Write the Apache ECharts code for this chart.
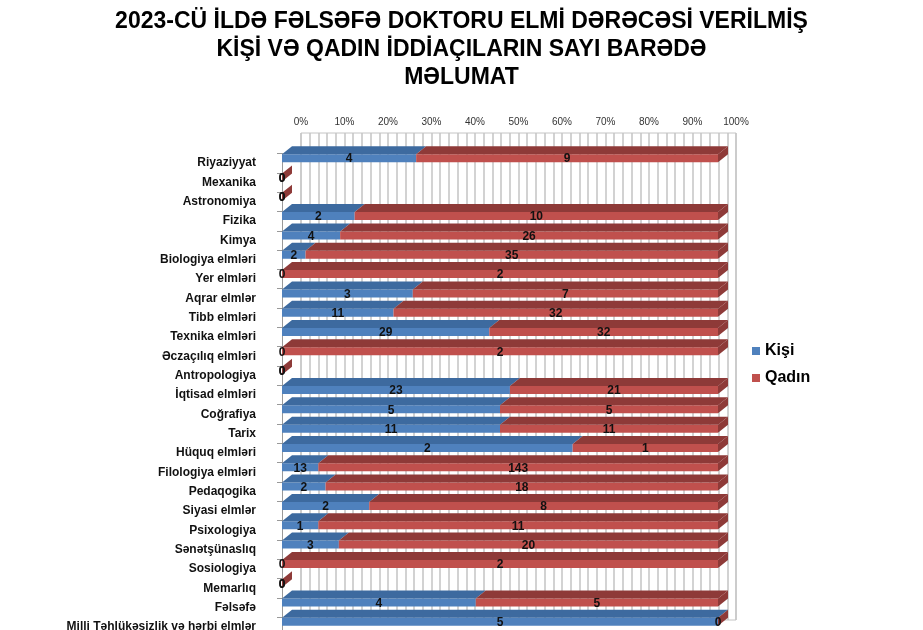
<!DOCTYPE html>
<html>
<head>
<meta charset="utf-8">
<script src="https://cdn.jsdelivr.net/npm/echarts@6/dist/echarts.min.js"></script>
<style>
  html, body { margin: 0; padding: 0; background: #fff; }
  #chart { width: 923px; height: 630px; }
</style>
</head>
<body>
<div id="chart"></div>
<script>
var categories = ['Riyaziyyat', 'Mexanika', 'Astronomiya', 'Fizika', 'Kimya', 'Biologiya elmləri',
  'Yer elmləri', 'Aqrar elmlər', 'Tibb elmləri', 'Texnika elmləri', 'Əczaçılıq elmləri',
  'Antropologiya', 'İqtisad elmləri', 'Coğrafiya', 'Tarix', 'Hüquq elmləri', 'Filologiya elmləri',
  'Pedaqogika', 'Siyasi elmlər', 'Psixologiya', 'Sənətşünaslıq', 'Sosiologiya', 'Memarlıq',
  'Fəlsəfə', 'Milli Təhlükəsizlik və hərbi elmlər'];
var kisi  = [4, 0, 0, 2, 4, 2, 0, 3, 11, 29, 0, 0, 23, 5, 11, 2, 13, 2, 2, 1, 3, 0, 0, 4, 5];
var qadin = [9, 0, 0, 10, 26, 35, 2, 7, 32, 32, 2, 0, 21, 5, 11, 1, 143, 18, 8, 11, 20, 2, 0, 5, 0];

// 100% stacked segments: [category, start%, end%, raw value]
var kisiData = categories.map(function (c, i) {
  var total = kisi[i] + qadin[i];
  var p = total ? kisi[i] / total * 100 : 0;
  return [i, 0, p, kisi[i]];
});
var qadinData = categories.map(function (c, i) {
  var total = kisi[i] + qadin[i];
  var p = total ? kisi[i] / total * 100 : 0;
  return [i, p, total ? 100 : 0, qadin[i]];
});

function makeRender(front, top, side, withSide) {
  return function (params, api) {
    var cat = api.value(0);
    var a = api.coord([api.value(1), cat]);
    var b = api.coord([api.value(2), cat]);
    var h = 8, dx = 10, dy = 8;
    var yc = a[1] - 5;
    var y0 = yc - h / 2, y1 = yc + h / 2;
    var x0 = a[0], x1 = b[0];
    var children = [];
    if (x1 > x0) {
      children.push({ type: 'rect', shape: { x: x0, y: y0, width: x1 - x0, height: h }, style: { fill: front } });
      children.push({ type: 'polygon', shape: { points: [[x0, y0], [x0 + dx, y0 - dy], [x1 + dx, y0 - dy], [x1, y0]] }, style: { fill: top } });
    }
    if (withSide) {
      children.push({ type: 'polygon', shape: { points: [[x1, y0], [x1 + dx, y0 - dy], [x1 + dx, y1 - dy], [x1, y1]] }, style: { fill: side } });
    }
    children.push({
      type: 'text',
      z2: 50,
      style: {
        text: String(api.value(3)), x: (x0 + x1) / 2, y: yc + 1,
        align: 'center', verticalAlign: 'middle',
        font: 'bold 12px "Liberation Sans", Arial, sans-serif', fill: '#111'
      }
    });
    return { type: 'group', children: children };
  };
}

var chart = echarts.init(document.getElementById('chart'));
chart.setOption({
  backgroundColor: '#fff',
  animation: false,
  title: {
    text: '2023-CÜ İLDƏ FƏLSƏFƏ DOKTORU ELMİ DƏRƏCƏSİ VERİLMİŞ\nKİŞİ VƏ QADIN İDDİAÇILARIN SAYI BARƏDƏ\nMƏLUMAT',
    left: 'center',
    top: 3,
    textStyle: {
      fontFamily: '"Liberation Sans", Arial, sans-serif',
      fontWeight: 'bold', fontSize: 23, lineHeight: 28, color: '#000'
    }
  },
  legend: {
    orient: 'vertical',
    left: 747,
    top: 338,
    itemWidth: 8,
    itemHeight: 8,
    itemGap: 11,
    icon: 'rect',
    textStyle: { fontFamily: '"Liberation Sans", Arial, sans-serif', fontWeight: 'bold', fontSize: 16, color: '#000' },
    data: ['Kişi', 'Qadın']
  },
  grid: [
    { left: 301, width: 435, top: 133, height: 487, show: true, borderColor: '#c4c4c4', borderWidth: 1, outerBoundsMode: 'none' },
    { left: 282, width: 436, top: 153.5, height: 483, outerBoundsMode: 'none' }
  ],
  xAxis: [
    {
      gridIndex: 0, type: 'value', position: 'top', min: 0, max: 100, interval: 10,
      axisLine: { show: false }, axisTick: { show: false },
      axisLabel: {
        margin: 6, fontSize: 10, color: '#333', fontFamily: '"Liberation Sans", Arial, sans-serif',
        formatter: function (v) { return v + '%'; }
      },
      splitLine: { show: true, lineStyle: { color: '#c4c4c4', width: 1.5 } },
      minorTick: { show: false, splitNumber: 5 },
      minorSplitLine: { show: true, lineStyle: { color: '#c4c4c4', width: 1.5 } }
    },
    { gridIndex: 1, type: 'value', min: 0, max: 100, show: false }
  ],
  yAxis: [
    { gridIndex: 0, type: 'value', show: false },
    {
      gridIndex: 1, type: 'category', data: categories, inverse: true, offset: 9,
      axisLine: { show: true, lineStyle: { color: '#999' } },
      axisTick: { show: true, length: 5, lineStyle: { color: '#999' } },
      axisLabel: {
        margin: 17, fontSize: 12, fontWeight: 'bold', color: '#111',
        fontFamily: '"Liberation Sans", Arial, sans-serif', interval: 0
      },
      splitLine: { show: false }
    }
  ],
  series: [
    {
      name: 'Kişi', type: 'custom', xAxisIndex: 1, yAxisIndex: 1, clip: false,
      itemStyle: { color: '#4F81BD' },
      encode: { x: [1, 2], y: 0 },
      renderItem: makeRender('#4F81BD', '#3D6A9F', '#3D6A9F', false),
      data: kisiData
    },
    {
      name: 'Qadın', type: 'custom', xAxisIndex: 1, yAxisIndex: 1, clip: false,
      itemStyle: { color: '#C0504D' },
      encode: { x: [1, 2], y: 0 },
      renderItem: makeRender('#C0504D', '#8E3A38', '#8E3A38', true),
      data: qadinData
    }
  ]
});
</script>
</body>
</html>
